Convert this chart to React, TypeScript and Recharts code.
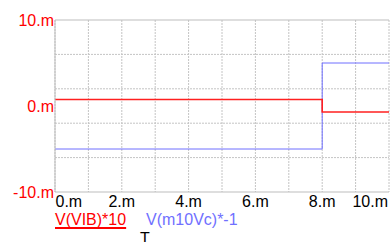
import React from "react";
import { LineChart, Line, XAxis, YAxis, CartesianGrid, ReferenceLine } from "recharts";

const timeMs = [0, 8, 10];
const vibTimes10 = [0.75, -0.7, -0.7];
const m10VcNeg = [-5, 5, 5];
const xGridTicks = [0, 1, 2, 3, 4, 5, 6, 7, 8, 9, 10];
const xLabelTicks = [0, 2, 4, 6, 8, 10];
const yLabelTicks = [-10, 0, 10];
const yGridTicks = [-6, -2, 2, 6];

const data = timeMs.map((t, i) => ({ t, vib: vibTimes10[i], m10: m10VcNeg[i] }));

const FONT = "'Liberation Sans', Arial, sans-serif";

const XTick = (props: any) => {
  const { x, y, payload } = props;
  const v = payload.value;
  if (!xLabelTicks.includes(v)) return null;
  const anchor = v === 0 ? "start" : v === 10 ? "end" : "middle";
  const dx = v === 10 ? -1 : v === 0 ? 0.5 : 0;
  return (
    <text x={x + dx} y={y + 7} textAnchor={anchor} fill="#000" fontSize={16} fontFamily={FONT}>
      {`${v}.m`}
    </text>
  );
};

const YTick = (props: any) => {
  const { x, y, payload } = props;
  return (
    <text x={x + 7} y={y + 6} textAnchor="end" fill="#ff0000" fontSize={16} fontFamily={FONT}>
      {`${payload.value}.m`}
    </text>
  );
};

export default function App() {
  return (
    <div style={{ position: "absolute", left: 0, top: 0, width: 390, height: 242, background: "#fff" }}>
      <LineChart width={390} height={242} data={data} margin={{ top: 20, right: 1, bottom: 0, left: 0 }}>
        <CartesianGrid stroke="#c4c4c4" strokeDasharray="2 1" horizontal={false} vertical={true} />
        <XAxis
          dataKey="t"
          type="number"
          domain={[0, 10]}
          ticks={xGridTicks}
          interval={0}
          height={50}
          tickLine={false}
          axisLine={{ stroke: "#bdbdbd" }}
          tick={<XTick />}
        />
        <YAxis
          type="number"
          domain={[-10, 10]}
          ticks={yLabelTicks}
          width={55}
          tickLine={false}
          axisLine={{ stroke: "#bdbdbd" }}
          tick={<YTick />}
        />
        {yGridTicks.map((v) => (
          <ReferenceLine key={v} y={v} stroke="#c4c4c4" strokeDasharray="2 1" />
        ))}
        <ReferenceLine y={10} stroke="#bdbdbd" />
        <Line
          type="stepAfter"
          dataKey="m10"
          stroke="#6e6eff"
          strokeWidth={1}
          dot={false}
          isAnimationActive={false}
        />
        <Line
          type="stepAfter"
          dataKey="vib"
          stroke="#ff2020"
          strokeWidth={1.6}
          dot={false}
          isAnimationActive={false}
        />
      </LineChart>
      <div
        style={{
          position: "absolute",
          left: 55,
          top: 211,
          fontFamily: FONT,
          fontSize: 16,
          color: "#ff0000",
          textDecoration: "underline",
          textDecorationThickness: "2px",
          textUnderlineOffset: "2px",
          textDecorationSkipInk: "none",
          whiteSpace: "nowrap",
        }}
      >
        V(VIB)*10
      </div>
      <div
        style={{
          position: "absolute",
          left: 146,
          top: 211,
          fontFamily: FONT,
          fontSize: 16,
          color: "#7070ff",
          whiteSpace: "nowrap",
        }}
      >
        V(m10Vc)*-1
      </div>
      <div
        style={{
          position: "absolute",
          left: 140,
          top: 230,
          fontFamily: FONT,
          fontSize: 16,
          color: "#000",
          whiteSpace: "nowrap",
        }}
      >
        T
      </div>
    </div>
  );
}
